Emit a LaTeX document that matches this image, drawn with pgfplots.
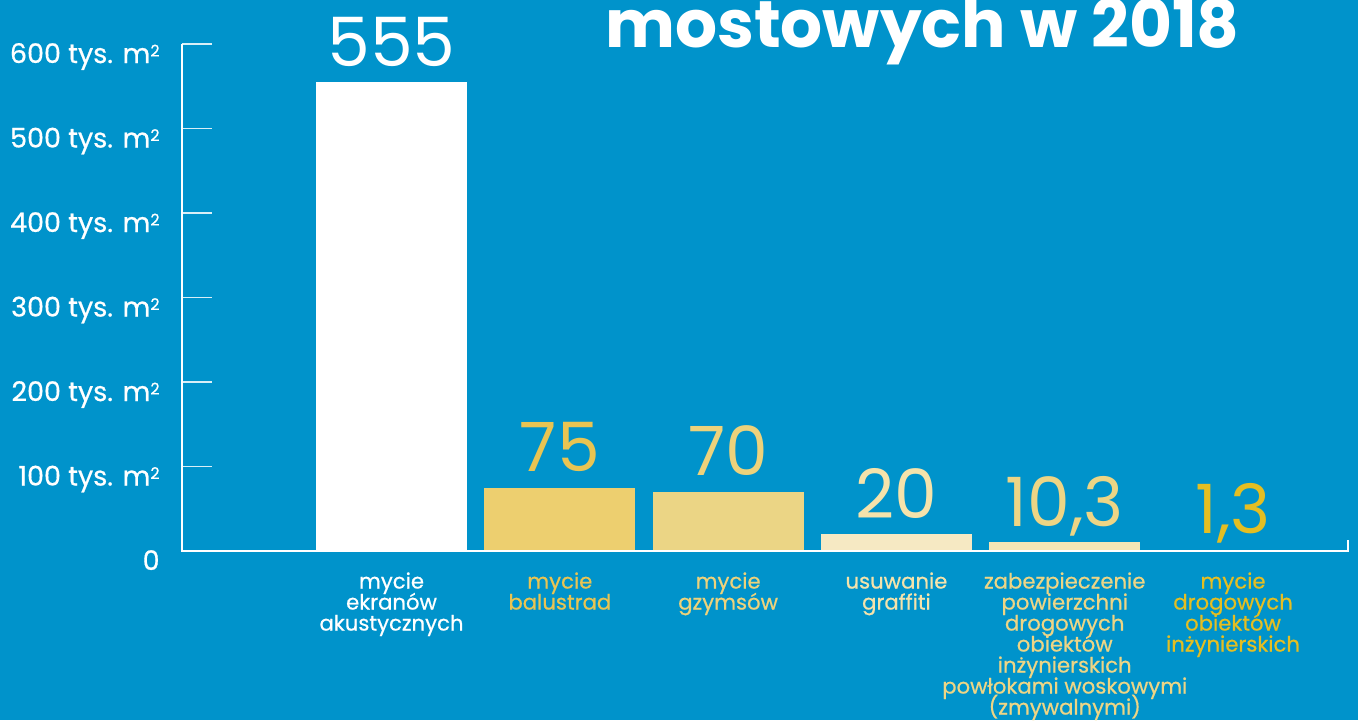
\documentclass[border=0pt]{standalone}
\usepackage{pgfplots}
\pgfplotsset{compat=1.18}
\usepackage{fontspec}
\setmainfont{Poppins}
\newfontfamily\med{Poppins}[FakeBold=0.6]
\definecolor{bg}{HTML}{0093CB}
\definecolor{barB}{HTML}{EDCF6F}
\definecolor{barC}{HTML}{EBD585}
\definecolor{barD}{HTML}{F6E9C3}
\definecolor{barE}{HTML}{F6E6B5}
\definecolor{barF}{HTML}{E5BF22}
\definecolor{labB}{HTML}{E9C452}
\definecolor{labC}{HTML}{EDD27B}
\definecolor{labD}{HTML}{F5E3AB}
\definecolor{labE}{HTML}{EDD585}
\definecolor{labF}{HTML}{E4BE22}
\newcommand{\cA}[1]{\textcolor{white}{#1}}
\newcommand{\cB}[1]{\textcolor{labB}{#1}}
\newcommand{\cC}[1]{\textcolor{labC}{#1}}
\newcommand{\cD}[1]{\textcolor{labD}{#1}}
\newcommand{\cE}[1]{\textcolor{labE}{#1}}
\newcommand{\cF}[1]{\textcolor{labF}{#1}}
\newcommand{\unit}{tys. m{\fontsize{8}{8}\selectfont\raisebox{0.75ex}{2}}}
\begin{document}
\begin{tikzpicture}[x=1pt,y=1pt]
\useasboundingbox (-91,-84.5) rectangle (588,275.5);
\fill[bg] (-91,-84.5) rectangle (588,275.5);
\clip (-91,-84.5) rectangle (588,275.5);
\begin{axis}[
  at={(0,0)}, anchor=south west,
  scale only axis, width=583pt, height=253.5pt,
  xmin=-1.245, xmax=5.683, ymin=0, ymax=600,
  axis line style={draw=none},
  clip=false,
  ybar, bar width=75.5pt, bar shift=0pt,
  ytick={0,100,200,300,400,500,600},
  yticklabels={0,100 \unit,200 \unit,300 \unit,400 \unit,500 \unit,600 \unit},
  yticklabel style={white, font=\med\fontsize{13.5}{14}\selectfont, anchor=base east, inner sep=0pt, xshift=-11pt, yshift=-9.5pt},
  ytick pos=left,
  major y tick style={white!85!bg, line width=0.7pt},
  major tick length=15pt, tick align=inside,
  xtick={0,1,2,3,4,5},
  xticklabels={
    {\cA{mycie}\\\cA{ekranów}\\\cA{akustycznych}},
    {\cB{mycie}\\\cB{balustrad}},
    {\cC{mycie}\\\cC{gzymsów}},
    {\cD{usuwanie}\\\cD{graffiti}},
    {\cE{zabezpieczenie}\\\cE{powierzchni}\\\cE{drogowych}\\\cE{obiektów}\\\cE{inżynierskich}\\\cE{powłokami woskowymi}\\\cE{(zmywalnymi)}},
    {\cF{mycie}\\\cF{drogowych}\\\cF{obiektów}\\\cF{inżynierskich}}},
  xticklabel style={align=center, anchor=north, inner sep=0pt, yshift=-10.5pt, font={\med\fontsize{10.6}{10.5}\selectfont\lineskiplimit=-20pt}},
  major x tick style={draw=none},
  every node near coord/.append style={anchor=base, yshift=8pt, font=\fontsize{34}{34}\selectfont},
]
\addplot[fill=white, draw=none, nodes near coords={555}, every node near coord/.append style={text=white}] coordinates {(0,555)};
\addplot[fill=barB, draw=none, nodes near coords={75}, every node near coord/.append style={text=labB}] coordinates {(1,75)};
\addplot[fill=barC, draw=none, nodes near coords={70}, every node near coord/.append style={text=labC}] coordinates {(2,70)};
\addplot[fill=barD, draw=none, nodes near coords={20}, every node near coord/.append style={text=labD}] coordinates {(3,20)};
\addplot[fill=barE, draw=none, nodes near coords={{10,3}}, every node near coord/.append style={text=labE}] coordinates {(4,10.3)};
\addplot[fill=barF, draw=none, nodes near coords={{1,3}}, every node near coord/.append style={text=labF}] coordinates {(5,1.3)};
\end{axis}
\draw[white, line width=1pt] (0,253.5) -- (0,0) -- (583,0) -- (583,5.5);
\node[white, font=\fontsize{33}{33}\selectfont\bfseries, anchor=base] at (370.25,252) {mostowych w 2018};
\end{tikzpicture}
\end{document}
